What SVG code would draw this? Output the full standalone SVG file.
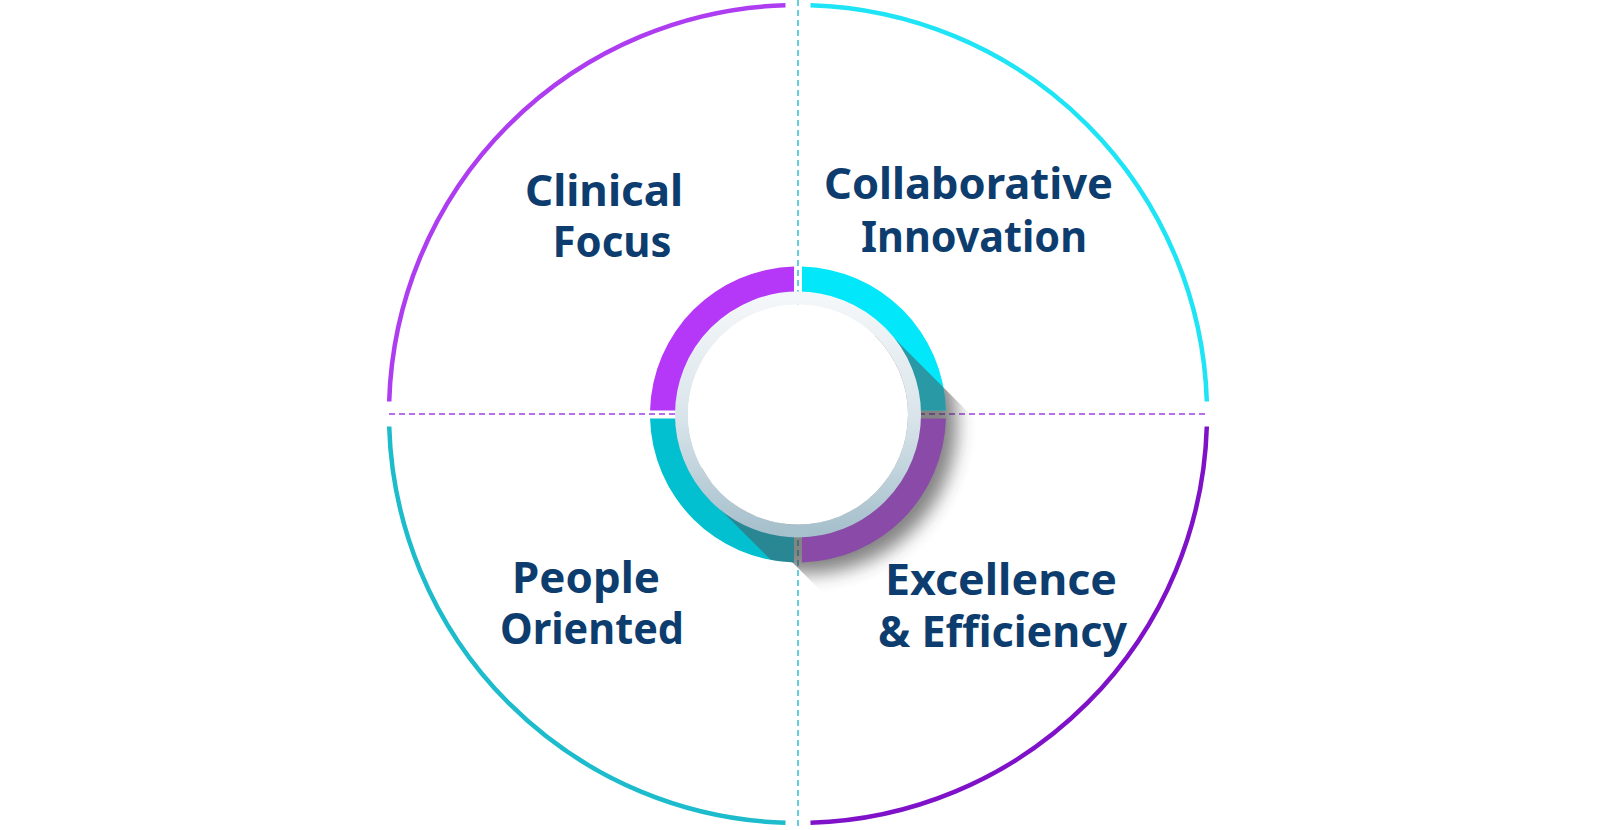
<svg xmlns="http://www.w3.org/2000/svg" width="1600" height="830" viewBox="0 0 1600 830">
  <defs>
    <style>
      .lbl { font-family: "Noto Sans", "Open Sans", "Liberation Sans", sans-serif; font-weight: 700; font-size: 43px; fill: #0d3c6e; text-anchor: middle; }
      .arc { fill: none; stroke-width: 4.5; stroke-linecap: butt; }
      .dash { fill: none; stroke-width: 1.6; stroke-dasharray: 6 4; }
    </style>
    <linearGradient id="rimGrad" x1="0" y1="0" x2="0" y2="1">
      <stop offset="0" stop-color="#f4f7f9"/>
      <stop offset="0.5" stop-color="#dae5eb"/>
      <stop offset="1" stop-color="#a6c0cc"/>
    </linearGradient>
    <filter id="blur" x="-25%" y="-25%" width="150%" height="150%">
      <feGaussianBlur stdDeviation="9"/>
    </filter>
    <clipPath id="band">
      <polygon points="884.3,328.2 1284.3,728.2 1100,870 700,470"/>
    </clipPath>
    <clipPath id="segClip">
      <path d="M 802,266.55 A 148 148 0 0 1 945.95,410.5 L 915.93,410.5 A 118 118 0 0 0 802,296.57 Z"/>
      <path d="M 794,562.45 A 148 148 0 0 1 650.05,418.5 L 680.07,418.5 A 118 118 0 0 0 794,532.43 Z"/>
    </clipPath>
  </defs>

  <rect width="1600" height="830" fill="#ffffff"/>

  <g id="connectors">
    <line class="dash" x1="798" y1="0" x2="798" y2="830" stroke="#3cc4d4"/>
    <line class="dash" x1="389" y1="414" x2="1207" y2="414" stroke="#a040e0"/>
  </g>

  <g id="outer-ring">
    <path class="arc" stroke="#ae3cf0" d="M 389.19,401.5 A 409 409 0 0 1 785.5,5.19"/>
    <path class="arc" stroke="#1ee4f6" d="M 810.5,5.19 A 409 409 0 0 1 1206.81,401.5"/>
    <path class="arc" stroke="#7f12c8" d="M 1206.81,426.5 A 409 409 0 0 1 810.5,822.81"/>
    <path class="arc" stroke="#1cbccc" d="M 785.5,822.81 A 409 409 0 0 1 389.19,426.5"/>
  </g>

  <g id="center">
    <g clip-path="url(#band)">
      <circle cx="807" cy="424" r="150" fill="#333333" opacity="0.6" filter="url(#blur)"/>
    </g>
    <path fill="#b537f8" d="M 650.05,410.5 A 148 148 0 0 1 794,266.55 L 794,296.57 A 118 118 0 0 0 680.07,410.5 Z"/>
    <path fill="#02e8fa" d="M 802,266.55 A 148 148 0 0 1 945.95,410.5 L 915.93,410.5 A 118 118 0 0 0 802,296.57 Z"/>
    <path fill="#8a4aa8" d="M 945.95,418.5 A 148 148 0 0 1 802,562.45 L 802,532.43 A 118 118 0 0 0 915.93,418.5 Z"/>
    <path fill="#02c0d0" d="M 794,562.45 A 148 148 0 0 1 650.05,418.5 L 680.07,418.5 A 118 118 0 0 0 794,532.43 Z"/>
    <g clip-path="url(#segClip)">
      <polygon points="884.3,328.2 1284.3,728.2 1111.7,900.8 711.7,500.8" fill="#4a5860" opacity="0.55"/>
    </g>
    <circle cx="798" cy="414.5" r="116.5" fill="none" stroke="url(#rimGrad)" stroke-width="13"/>
    <circle cx="798" cy="414.5" r="110" fill="#ffffff"/>
  </g>

  <g id="clinical-focus">
    <text class="lbl" x="604" y="206" textLength="158" lengthAdjust="spacingAndGlyphs">Clinical</text>
    <text class="lbl" x="612" y="257" textLength="119" lengthAdjust="spacingAndGlyphs">Focus</text>
  </g>
  <g id="collaborative-innovation">
    <text class="lbl" x="968.5" y="199" textLength="289" lengthAdjust="spacingAndGlyphs">Collaborative</text>
    <text class="lbl" x="974" y="252" textLength="226" lengthAdjust="spacingAndGlyphs">Innovation</text>
  </g>
  <g id="people-oriented">
    <text class="lbl" x="586" y="593" textLength="148" lengthAdjust="spacingAndGlyphs">People</text>
    <text class="lbl" x="592" y="644" textLength="184" lengthAdjust="spacingAndGlyphs">Oriented</text>
  </g>
  <g id="excellence-efficiency">
    <text class="lbl" x="1001" y="595" textLength="232" lengthAdjust="spacingAndGlyphs">Excellence</text>
    <text class="lbl" x="1002.5" y="647" textLength="249" lengthAdjust="spacingAndGlyphs">&amp; Efficiency</text>
  </g>
</svg>
